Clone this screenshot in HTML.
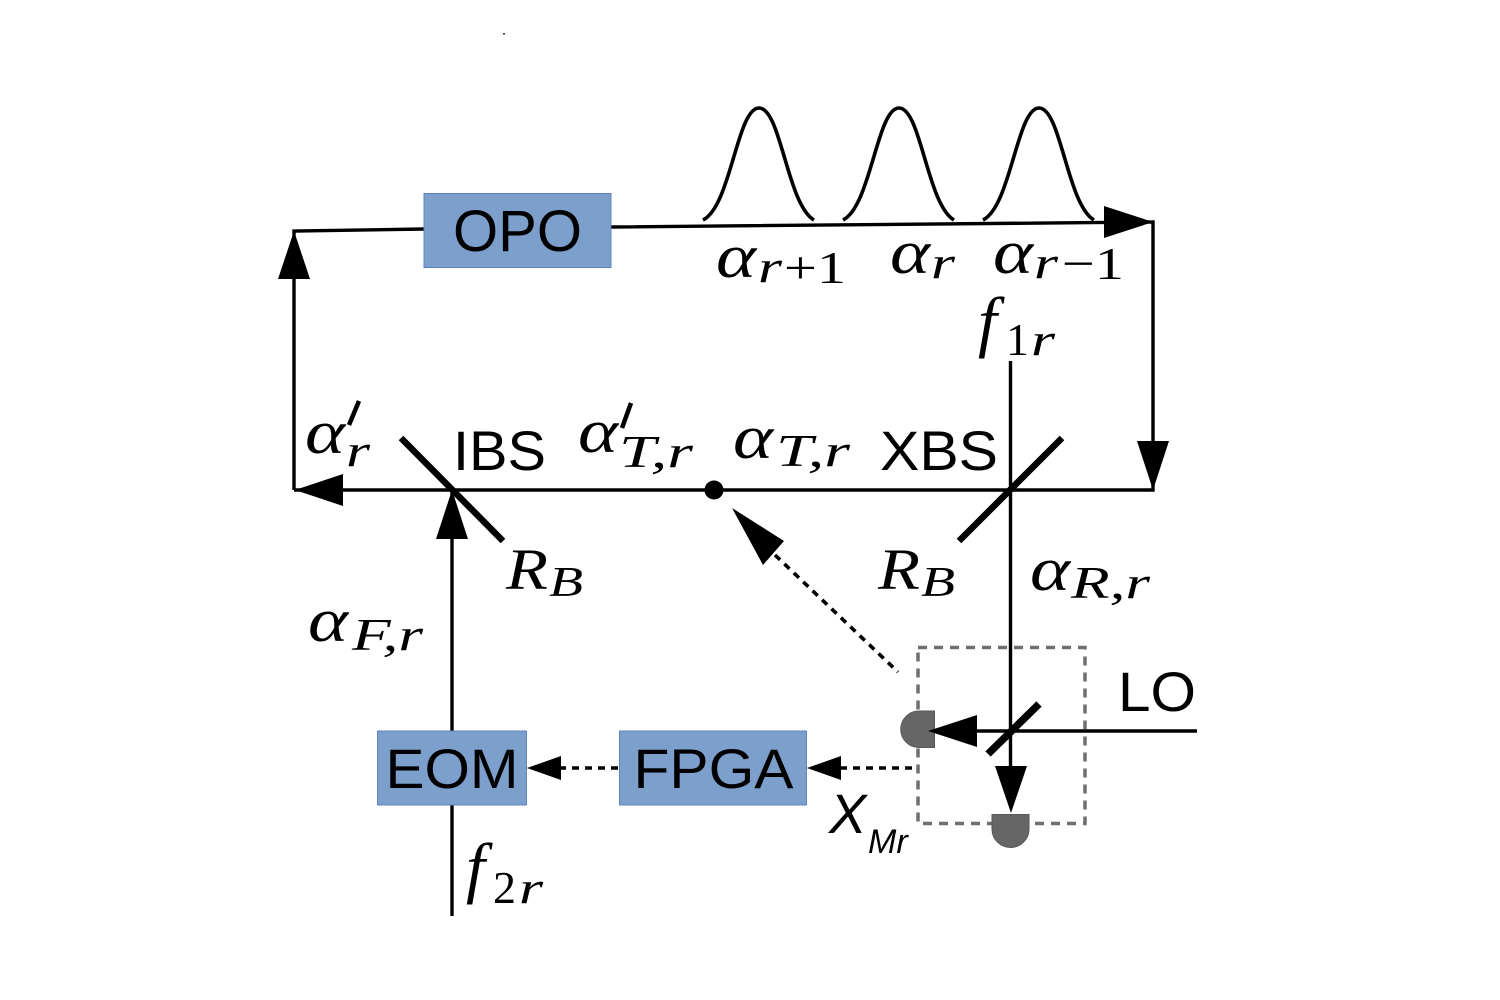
<!DOCTYPE html>
<html>
<head>
<meta charset="utf-8">
<style>
html,body{margin:0;padding:0;background:#fff;width:1500px;height:1000px;overflow:hidden}
svg{display:block}
.s{font-family:"Liberation Sans",sans-serif;fill:#000}
.m{font-family:"Liberation Serif",serif;font-style:italic;fill:#000}
.n{font-family:"Liberation Serif",serif;fill:#000}
</style>
</head>
<body>
<svg width="1500" height="1000" viewBox="0 0 1500 1000" xmlns="http://www.w3.org/2000/svg">
<rect x="503" y="33" width="2" height="1.5" fill="#333"/>

<!-- gaussians -->
<g fill="none" stroke="#000" stroke-width="3.600">
<path d="M703,220 C731,206 737,108 759,108 C781,108 787,204 814,220"/>
<path d="M843,220 C871,206 877,108 899,108 C921,108 927,204 954,220"/>
<path d="M983,220 C1011,206 1017,108 1039,108 C1061,108 1067,204 1094,220"/>
</g>

<!-- main loop -->
<g fill="none" stroke="#000" stroke-width="3.400">
<path d="M294,490 L294,231 L424,229"/>
<path d="M611,227 L1153,222 L1153,490 L294,490"/>
<path d="M452,490 L452,731"/>
<path d="M452,805 L452,916"/>
<path d="M1010.500,361 L1010.500,785"/>
<path d="M960,731 L1197,731"/>
</g>

<!-- mirrors -->
<g stroke="#000" stroke-width="6.500" fill="none">
<path d="M401,438 L503,541"/>
<path d="M1062,438 L959,541"/>
</g>
<path d="M1039,704 L988,754" stroke="#000" stroke-width="7.500" fill="none"/>

<!-- dashed box -->
<rect x="918" y="647.500" width="167" height="176" fill="none" stroke="#6e6e6e" stroke-width="3.500" stroke-dasharray="9 7"/>

<!-- detectors -->
<path d="M934.500,711 L934.500,747.500 L919,747.500 A18.200,18.200 0 0 1 919,711 Z" fill="#666" stroke="#555" stroke-width="1"/>
<path d="M992,814.500 L1029,814.500 L1029,829 A18.500,18.500 0 0 1 992,829 Z" fill="#666" stroke="#555" stroke-width="1"/>

<!-- dashed connectors -->
<g fill="none" stroke="#000" stroke-width="3.600" stroke-dasharray="7 6">
<path d="M775,555 L898,672"/>
<path d="M912,768 L840,768"/>
<path d="M618,768 L560,768"/>
</g>

<!-- arrowheads -->
<g fill="#000">
<polygon points="294,231 278,279 310,279"/>
<polygon points="1153,222 1104,206 1104,238"/>
<polygon points="1153,490 1137,441 1169,441"/>
<polygon points="295,490 343,474 343,506"/>
<polygon points="452,490 436,539 468,539"/>
<polygon points="732,508 784,541 763,565"/>
<polygon points="928,731 977,715 977,747"/>
<polygon points="1011,813 995,766 1027,766"/>
<polygon points="807,768 841,756 841,780"/>
<polygon points="527,768 561,756 561,780"/>
<circle cx="714" cy="490" r="9.500"/>
</g>

<!-- boxes -->
<g fill="#7c9fcc" stroke="#5f83bb" stroke-width="1">
<rect x="424" y="193.500" width="187" height="74"/>
<rect x="377.500" y="731" width="149" height="74"/>
<rect x="619.500" y="731" width="187" height="74"/>
</g>

<!-- sans labels -->
<g class="s" font-size="56">
<text x="453" y="251" font-size="58" textLength="129" lengthAdjust="spacingAndGlyphs">OPO</text>
<text x="452" y="788" text-anchor="middle" textLength="133" lengthAdjust="spacingAndGlyphs">EOM</text>
<text x="713.500" y="788" text-anchor="middle" textLength="160" lengthAdjust="spacingAndGlyphs">FPGA</text>
<text x="453" y="470" textLength="93" lengthAdjust="spacingAndGlyphs">IBS</text>
<text x="880" y="470" textLength="118" lengthAdjust="spacingAndGlyphs">XBS</text>
<text x="1118" y="711" textLength="78" lengthAdjust="spacingAndGlyphs">LO</text>
</g>

<!-- math labels -->
<g class="m" font-size="62">
<text x="716" y="277" textLength="40" lengthAdjust="spacingAndGlyphs">α</text>
<text x="890" y="273" textLength="40" lengthAdjust="spacingAndGlyphs">α</text>
<text x="993" y="273" textLength="40" lengthAdjust="spacingAndGlyphs">α</text>
<text x="305" y="453" textLength="40" lengthAdjust="spacingAndGlyphs">α</text>
<text x="578" y="452" textLength="40" lengthAdjust="spacingAndGlyphs">α</text>
<text x="733" y="458" textLength="40" lengthAdjust="spacingAndGlyphs">α</text>
<text x="1030" y="590" textLength="40" lengthAdjust="spacingAndGlyphs">α</text>
<text x="308" y="641" textLength="40" lengthAdjust="spacingAndGlyphs">α</text>
</g>
<g class="m" font-size="46">
<text x="758" y="282" textLength="24" lengthAdjust="spacingAndGlyphs">r</text>
<text x="931" y="278" textLength="24" lengthAdjust="spacingAndGlyphs">r</text>
<text x="1034" y="278" textLength="24" lengthAdjust="spacingAndGlyphs">r</text>
<text x="346" y="466" textLength="24" lengthAdjust="spacingAndGlyphs">r</text>
<text x="1071" y="598" textLength="79" lengthAdjust="spacingAndGlyphs">R,r</text>
<text x="352" y="650" textLength="71" lengthAdjust="spacingAndGlyphs">F,r</text>
<text x="776" y="466" textLength="74" lengthAdjust="spacingAndGlyphs">T,r</text>
<text x="619" y="467" textLength="74" lengthAdjust="spacingAndGlyphs">T,r</text>
<text x="1031" y="355" textLength="24" lengthAdjust="spacingAndGlyphs">r</text>
<text x="519" y="903" textLength="24" lengthAdjust="spacingAndGlyphs">r</text>
</g>
<g class="n" font-size="46">
<text x="784" y="283" textLength="62" lengthAdjust="spacingAndGlyphs">+1</text>
<text x="1062" y="279" textLength="62" lengthAdjust="spacingAndGlyphs">−1</text>
<text x="1006" y="355">1</text>
<text x="493" y="903">2</text>
</g>
<g class="m" font-size="58">
<text x="506" y="589" textLength="42" lengthAdjust="spacingAndGlyphs">R</text>
<text x="878" y="589" textLength="42" lengthAdjust="spacingAndGlyphs">R</text>
</g>
<g class="m" font-size="42">
<text x="549" y="596" textLength="34" lengthAdjust="spacingAndGlyphs">B</text>
<text x="921" y="596" textLength="34" lengthAdjust="spacingAndGlyphs">B</text>
</g>
<g class="m" font-size="68">
<text x="978" y="344">f</text>
<text x="466" y="890">f</text>
</g>
<!-- primes -->
<g stroke="#000" stroke-width="4.500" fill="none">
<path d="M359,401 L349,425"/>
<path d="M631,403 L622,428"/>
</g>
<!-- X_Mr -->
<g class="s" font-style="italic">
<text x="829" y="833" font-size="56">X</text>
<text x="868" y="853" font-size="34">Mr</text>
</g>
</svg>
</body>
</html>
